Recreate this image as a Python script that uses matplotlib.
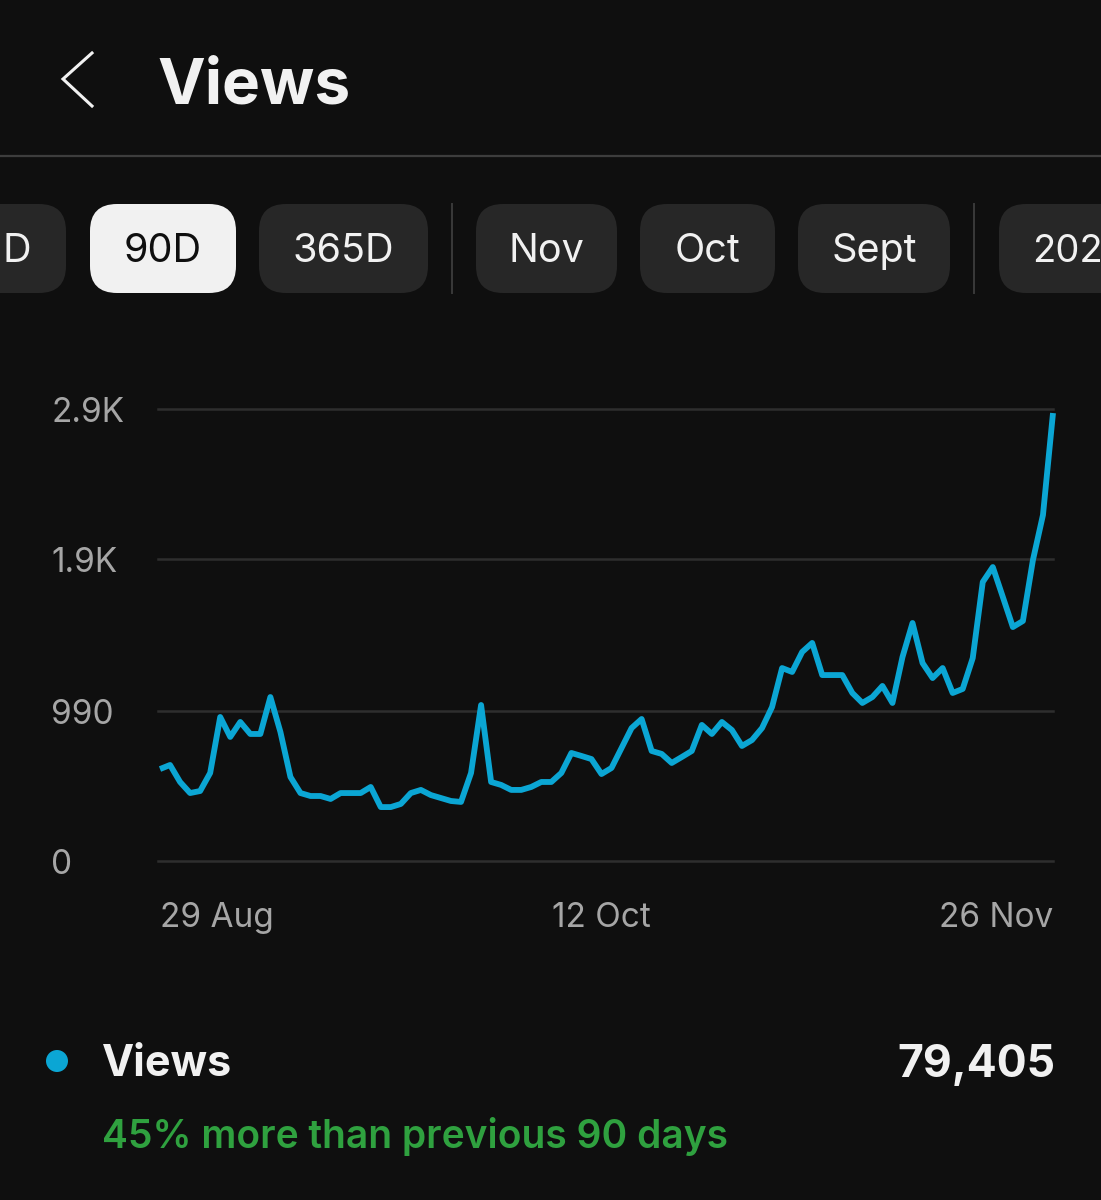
import numpy as np
import matplotlib
matplotlib.use("Agg")
import matplotlib.pyplot as plt
from matplotlib.patches import FancyBboxPatch, Circle

# daily views, 29 Aug to 26 Nov
views = [590, 616, 507, 436, 449, 565, 924, 796, 892, 815,
         815, 1052, 828, 539, 436, 417, 417, 398, 436, 436,
         436, 475, 346, 346, 366, 436, 456, 423, 404, 385,
         379, 565, 1001, 507, 488, 456, 456, 475, 507, 507,
         565, 693, 674, 654, 558, 597, 725, 853, 911, 706,
         687, 629, 667, 706, 873, 815, 892, 840, 738, 776,
         853, 988, 1238, 1213, 1341, 1399, 1193, 1193, 1193, 1078,
         1014, 1052, 1123, 1014, 1309, 1527, 1270, 1174, 1238, 1078,
         1104, 1302, 1790, 1886, 1694, 1501, 1540, 1931, 2220, 2874]

y_ticks = [0, 962, 1936, 2900]
y_labels = ["0", "990", "1.9K", "2.9K"]
x_ticks = [0, 44, 89]
x_labels = ["29 Aug", "12 Oct", "26 Nov"]

pill_labels = ["D", "90D", "365D", "Nov", "Oct", "Sept", "202"]
pill_lefts = [-60, 90, 259, 476, 640, 798, 999]
pill_rights = [66, 236, 428, 617, 775, 950, 1160]
separators = [452, 974]

BG = "#0f0f0f"
BLUE = "#0ba6d4"
W, H = 1101, 1200

plt.rcParams['font.family'] = ['Inter', 'DejaVu Sans']

fig = plt.figure(figsize=(W / 100, H / 100), dpi=100, facecolor=BG)

# the app screen around the chart, in pixel coordinates
ui = fig.add_axes([0, 0, 1, 1])
ui.set_xlim(0, W)
ui.set_ylim(H, 0)
ui.axis("off")

ui.plot([92, 63, 92], [53, 79, 106], color="#f1f1f1", lw=2.2, solid_joinstyle="miter")
ui.text(157, 80, "Views", color="#f1f1f1", fontsize=46, fontweight="bold", ha="left", va="center_baseline")
ui.plot([0, W], [156, 156], color="#3d3d3d", lw=1.6)

for label, left, right in zip(pill_labels, pill_lefts, pill_rights):
    selected = label == "90D"
    ui.add_patch(FancyBboxPatch((left, 204), right - left, 89,
                                boxstyle="round,pad=0,rounding_size=27",
                                fc="#f1f1f1" if selected else "#272727", ec="none"))
    text_color = "#0f0f0f" if selected else "#f1f1f1"
    if label == "D":
        ui.text(31, 248, label, color=text_color, fontsize=28.5, ha="right", va="center_baseline")
    elif label == "202":
        ui.text(1032, 248, label, color=text_color, fontsize=27.5, ha="left", va="center_baseline")
    else:
        ui.text((left + right) / 2, 248, label, color=text_color, fontsize=28.5, ha="center", va="center_baseline")

for x in separators:
    ui.plot([x, x], [204, 293], color="#3a3a3a", lw=1.4)

ui.add_patch(Circle((57, 1061), 11, fc=BLUE, ec="none"))
ui.text(102, 1060, "Views", color="#f1f1f1", fontsize=31, fontweight="bold", ha="left", va="center_baseline")
ui.text(1055, 1061, "79,405", color="#f1f1f1", fontsize=32, fontweight="bold", ha="right", va="center_baseline")
ui.text(102, 1133, "45% more than previous 90 days", color="#2fa13f", fontsize=28, fontweight="semibold",
        ha="left", va="center_baseline")

# chart
ax = fig.add_axes([158 / W, (H - 861) / H, (1053 - 158) / W, (861 - 409) / H])
ax.set_facecolor("none")
days = np.arange(len(views))
ax.plot(days, views, color=BLUE, lw=4.2, solid_joinstyle="round", solid_capstyle="butt", clip_on=False, zorder=3)
ax.set_xlim(-0.2, 89)
ax.set_ylim(0, 2900)
ax.set_yticks(y_ticks)
ax.set_yticklabels(y_labels)
ax.set_xticks(x_ticks)
ax.set_xticklabels(x_labels)
ax.tick_params(axis="both", length=0, labelcolor="#a6a6a6", labelsize=24)
ax.tick_params(axis="y", pad=77)
ax.tick_params(axis="x", pad=29.5)
for lab in ax.get_yticklabels():
    lab.set_ha("left")
ax.get_xticklabels()[0].set_ha("left")
ax.get_xticklabels()[2].set_ha("right")
ax.grid(axis="y", color="#2e2e2e", lw=1.8)
ax.grid(axis="x", visible=False)
for line in ax.get_ygridlines():
    line.set_clip_on(False)
for spine in ax.spines.values():
    spine.set_visible(False)

fig.savefig("out.png", dpi=100, facecolor=BG)
